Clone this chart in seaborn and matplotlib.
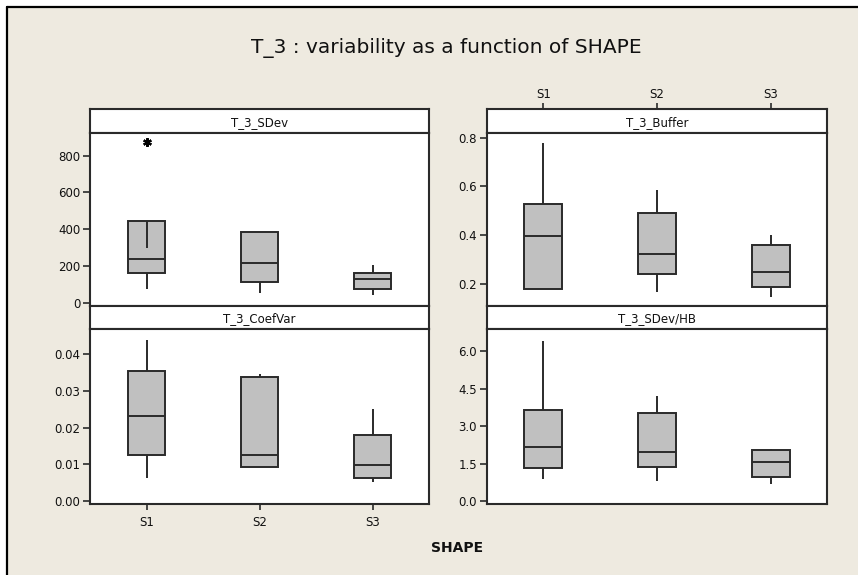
import numpy as np
import pandas as pd
import matplotlib
matplotlib.use("Agg")
import matplotlib.pyplot as plt
from matplotlib.lines import Line2D
from matplotlib.patches import Rectangle
import seaborn as sns

# ---- data -------------------------------------------------------------
shapes = ["S1", "S2", "S3"]

sdev_s1 = [73, 130, 170, 220, 260, 300, 876, 876]
sdev_s2 = [54, 114, 216, 386, 386]
sdev_s3 = [40, 76, 127, 160, 203]

buffer_s1 = [0.181, 0.181, 0.396, 0.530, 0.778]
buffer_s2 = [0.167, 0.242, 0.323, 0.493, 0.587]
buffer_s3 = [0.148, 0.187, 0.248, 0.360, 0.399]

coefvar_s1 = [0.0063, 0.0127, 0.0232, 0.0355, 0.0437]
coefvar_s2 = [0.0094, 0.0094, 0.0127, 0.0338, 0.0346]
coefvar_s3 = [0.0053, 0.0062, 0.0098, 0.0180, 0.0250]

sdevhb_s1 = [0.88, 1.32, 2.16, 3.67, 6.42]
sdevhb_s2 = [0.81, 1.39, 1.97, 3.52, 4.21]
sdevhb_s3 = [0.70, 0.96, 1.56, 2.04, 2.10]

panel_titles = ["T_3_SDev", "T_3_Buffer", "T_3_CoefVar", "T_3_SDev/HB"]
panel_data = [
    [sdev_s1, sdev_s2, sdev_s3],
    [buffer_s1, buffer_s2, buffer_s3],
    [coefvar_s1, coefvar_s2, coefvar_s3],
    [sdevhb_s1, sdevhb_s2, sdevhb_s3],
]
panel_yticks = [
    [0, 200, 400, 600, 800],
    [0.2, 0.4, 0.6, 0.8],
    [0.00, 0.01, 0.02, 0.03, 0.04],
    [0.0, 1.5, 3.0, 4.5, 6.0],
]
panel_yticklabels = [
    ["0", "200", "400", "600", "800"],
    ["0.2", "0.4", "0.6", "0.8"],
    ["0.00", "0.01", "0.02", "0.03", "0.04"],
    ["0.0", "1.5", "3.0", "4.5", "6.0"],
]
panel_ylims = [(-18, 923.6), (0.110, 0.819), (-0.00073, 0.0468), (-0.108, 6.89)]

title_text = "T_3 : variability as a function of SHAPE"
xlabel_text = "SHAPE"

# ---- style ------------------------------------------------------------
sns.set_theme(style="white")
plt.rcParams["font.family"] = ["DejaVu Sans"]

W, H = 858, 575
BG = "#EEEAE0"
EDGE = "#2a2a2a"
fig = plt.figure(figsize=(W / 100, H / 100), dpi=100)
fig.patch.set_facecolor("white")
fig.patch.set_edgecolor("none")

# graph region background with a frame on top and left
fig.add_artist(Rectangle((7 / W, -0.02), 1.05 - 7 / W, 1.02 - 7 / H,
                         transform=fig.transFigure, facecolor=BG,
                         edgecolor="none", linewidth=0, zorder=-10))
fig.add_artist(Line2D([7 / W, 1], [1 - 7 / H, 1 - 7 / H], transform=fig.transFigure,
                      color="black", lw=1.6))
fig.add_artist(Line2D([7 / W, 7 / W], [0, 1 - 7 / H], transform=fig.transFigure,
                      color="black", lw=1.6))


def px_axes(x0, y0, x1, y1):
    return fig.add_axes([x0 / W, 1 - y1 / H, (x1 - x0) / W, (y1 - y0) / H])


cols = [(90, 429), (486.7, 827.3)]
rows = [(109, 133, 306), (306, 329, 504)]

star = (6, 2, 0)

for k in range(4):
    r, c = divmod(k, 2)
    x0, x1 = cols[c]
    ytop, ystrip, ybot = rows[r]

    # strip with the variable name
    sax = px_axes(x0, ytop, x1, ystrip)
    sax.set_facecolor("white")
    sax.set_xlim(-0.5, 2.5)
    sax.set_ylim(0, 1)
    sax.set_yticks([])
    for sp in sax.spines.values():
        sp.set_color(EDGE)
        sp.set_linewidth(1.5)
    sax.text(1.0, 0.45, panel_titles[k], ha="center", va="center", fontsize=8.5,
             color="#111111")
    if k == 1:
        sax.xaxis.tick_top()
        sax.set_xticks([0, 1, 2])
        sax.set_xticklabels(shapes, fontsize=8.5, color="#111111")
        sax.tick_params(axis="x", direction="out", length=4, width=1.2,
                        color=EDGE, pad=2, top=True, bottom=False)
    else:
        sax.set_xticks([])

    # box plot panel
    ax = px_axes(x0, ystrip, x1, ybot)
    ax.set_facecolor("white")
    groups = panel_data[k]
    df = pd.DataFrame({
        "SHAPE": [s for s, g in zip(shapes, groups) for _ in g],
        "value": [v for g in groups for v in g],
    })
    sns.boxplot(data=df, x="SHAPE", y="value", order=shapes, ax=ax,
                color="#C0C0C0", saturation=1, width=0.335, linecolor=EDGE,
                linewidth=1.4, showcaps=False, whis=1.5,
                flierprops=dict(marker=star, markersize=6, markeredgewidth=1.5,
                                markeredgecolor="black", markerfacecolor="black"))

    # whisker that ends inside the box when the quartile is pulled by an outlier
    for i, g in enumerate(groups):
        arr = np.asarray(g, dtype=float)
        q1, q3 = np.percentile(arr, [25, 75])
        iqr = q3 - q1
        inside = arr[(arr >= q1 - 1.5 * iqr) & (arr <= q3 + 1.5 * iqr)]
        if inside.max() < q3:
            ax.vlines(i, inside.max(), q3, color=EDGE, lw=1.4, zorder=3)
        if inside.min() > q1:
            ax.vlines(i, q1, inside.min(), color=EDGE, lw=1.4, zorder=3)

    ax.set_xlim(-0.5, 2.5)
    ax.set_ylim(*panel_ylims[k])
    ax.set_yticks(panel_yticks[k])
    ax.set_yticklabels(panel_yticklabels[k], fontsize=8.5, color="#111111")
    ax.set_xlabel("")
    ax.set_ylabel("")
    ax.tick_params(axis="y", direction="out", length=5, width=1.2, color=EDGE,
                   pad=2, left=True)
    if k == 2:
        ax.set_xticks([0, 1, 2])
        ax.set_xticklabels(shapes, fontsize=8.5, color="#111111")
        ax.tick_params(axis="x", direction="out", length=4, width=1.2,
                       color=EDGE, pad=5, bottom=True)
    else:
        ax.set_xticks([])
    for sp in ax.spines.values():
        sp.set_visible(True)
        sp.set_color(EDGE)
        sp.set_linewidth(1.5)

fig.text(446 / W, 1 - 48 / H, title_text, ha="center", va="center",
         fontsize=14.5, color="#111111")
fig.text(457 / W, 1 - 548 / H, xlabel_text, ha="center", va="center",
         fontsize=10, fontweight="bold", color="#111111")

fig.savefig("out.png", dpi=100, facecolor=fig.get_facecolor())
